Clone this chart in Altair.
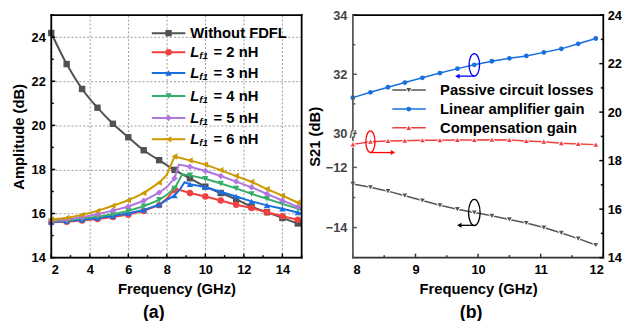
import altair as alt
import pandas as pd

# ---------------- panel (a) data ----------------
FREQ_A = [2.0, 2.8, 3.6, 4.4, 5.2, 6.0, 6.8, 7.6, 8.4, 9.2, 10.0, 10.8, 11.6, 12.4, 13.2, 14.0, 14.8]
AMP_WITHOUT = [24.19, 22.78, 21.65, 20.80, 20.07, 19.46, 18.87, 18.42, 17.98, 17.60, 17.22, 16.93, 16.64, 16.32, 16.06, 15.80, 15.55]
AMP_L2 = [15.60, 15.63, 15.68, 15.75, 15.84, 15.95, 16.12, 16.38, 17.08, 16.93, 16.77, 16.59, 16.40, 16.25, 16.06, 15.88, 15.72]
AMP_L3 = [15.62, 15.66, 15.72, 15.80, 15.89, 16.01, 16.16, 16.40, 16.82, 17.33, 17.20, 16.99, 16.77, 16.55, 16.37, 16.22, 16.05]
AMP_L4 = [15.65, 15.69, 15.77, 15.86, 15.97, 16.12, 16.33, 16.62, 17.14, 17.73, 17.58, 17.36, 17.14, 16.89, 16.67, 16.44, 16.22]
AMP_L5 = [15.68, 15.73, 15.83, 15.97, 16.13, 16.32, 16.58, 16.95, 17.60, 18.12, 17.93, 17.70, 17.45, 17.19, 16.89, 16.59, 16.30]
AMP_L6 = [15.73, 15.80, 15.94, 16.12, 16.35, 16.60, 16.93, 17.40, 18.59, 18.41, 18.22, 17.97, 17.70, 17.44, 17.11, 16.81, 16.50]

# trace points read between the markers (shoulder, resonance peak, right edge at 15 GHz)
EXTRA_F_WITHOUT = [15.0]
EXTRA_WITHOUT = [15.48]
EXTRA_F_L2 = [8.0, 8.47, 15.0]
EXTRA_L2 = [16.68, 17.12, 15.67]
EXTRA_F_L3 = [8.0, 8.7, 8.92, 15.0]
EXTRA_L3 = [16.62, 17.12, 17.42, 16.00]
EXTRA_F_L4 = [8.0, 8.6, 8.8, 15.0]
EXTRA_L4 = [16.85, 17.45, 17.78, 16.15]
EXTRA_F_L5 = [8.0, 8.53, 8.63, 15.0]
EXTRA_L5 = [17.20, 17.95, 18.22, 16.23]
EXTRA_F_L6 = [8.0, 15.0]
EXTRA_L6 = [17.75, 16.40]

SERIES_A = ["Without FDFL", "2 nH", "3 nH", "4 nH", "5 nH", "6 nH"]
COLORS_A = ["#515151", "#F14040", "#1A6FDF", "#37AD6B", "#B177DE", "#CC9900"]
SHAPES_A = ["square", "circle", "triangle-up", "triangle-down", "diamond", "triangle-left"]

X_TICKS_A = [2, 4, 6, 8, 10, 12, 14]
X_MINOR_A = [3, 5, 7, 9, 11, 13, 15]
Y_TICKS_A = [14, 16, 18, 20, 22, 24]
Y_MINOR_A = [15, 17, 19, 21, 23, 25]

# ---------------- panel (b) data ----------------
FREQ_B = [8.0, 8.28, 8.56, 8.83, 9.11, 9.39, 9.67, 9.94, 10.22, 10.5, 10.77, 11.05, 11.33, 11.6, 11.88]
PASSIVE = [-12.55, -12.66, -12.79, -12.94, -13.10, -13.26, -13.39, -13.50, -13.61, -13.73, -13.85, -14.00, -14.18, -14.37, -14.58]
LINEAR = [31.21, 31.39, 31.56, 31.72, 31.88, 32.04, 32.19, 32.32, 32.44, 32.54, 32.62, 32.74, 32.86, 33.03, 33.21]
COMP = [18.67, 18.78, 18.81, 18.82, 18.84, 18.84, 18.85, 18.85, 18.86, 18.85, 18.81, 18.78, 18.72, 18.69, 18.66]

LABELS_B = ["Passive circuit losses", "Linear amplifier gain", "Compensation gain"]
COLORS_B = ["#555555", "#1A6FDF", "#F14040"]
SHAPES_B = ["triangle-down", "circle", "triangle-up"]

X_TICKS_B = [8, 9, 10, 11, 12]
X_MINOR_B = [8.5, 9.5, 10.5, 11.5]
YL_TICKS_B = [34, 32, 30, -12, -14]
YL_MINOR_B = [33, 31, -13]
YR_TICKS_B = [14, 16, 18, 20, 22, 24]
YR_MINOR_B = [15, 17, 19, 21, 23]
LEFT_BREAK = [-10.87, 30]  # left axis jumps from the lower to the upper segment
ARROW_TIPS = [9.67, 8.64, 9.70]  # blue (left), red (right), gray (left)

FONT = "Liberation Sans"
W, H = 254, 246
ONE = pd.DataFrame({"k": [0]})

# ================= panel (a) =================
xa = alt.X("f:Q", scale=alt.Scale(domain=[2, 15], nice=False, zero=False),
           axis=alt.Axis(values=X_TICKS_A, title="Frequency (GHz)", grid=True, gridDash=[2, 2],
                         gridColor="#9a9a9a", gridWidth=1, ticks=False, domain=False, format="d",
                         labelPadding=6, titlePadding=5))
ya = alt.Y("v:Q", scale=alt.Scale(domain=[14, 25], nice=False, zero=False),
           axis=alt.Axis(values=Y_TICKS_A, title="Amplitude (dB)", grid=True, gridDash=[2, 2],
                         gridColor="#9a9a9a", gridWidth=1, ticks=False, domain=False, format="d",
                         labelPadding=6, titlePadding=5))

marker_vals = [AMP_WITHOUT, AMP_L2, AMP_L3, AMP_L4, AMP_L5, AMP_L6]
extra_f = [EXTRA_F_WITHOUT, EXTRA_F_L2, EXTRA_F_L3, EXTRA_F_L4, EXTRA_F_L5, EXTRA_F_L6]
extra_v = [EXTRA_WITHOUT, EXTRA_L2, EXTRA_L3, EXTRA_L4, EXTRA_L5, EXTRA_L6]

pt_rows, line_rows = [], []
for name, vals, ef, ev in zip(SERIES_A, marker_vals, extra_f, extra_v):
    for f, v in zip(FREQ_A, vals):
        pt_rows.append({"f": f, "v": v, "s": name})
        line_rows.append({"f": f, "v": v, "s": name})
    for f, v in zip(ef, ev):
        line_rows.append({"f": f, "v": v, "s": name})
df_pts = pd.DataFrame(pt_rows)
df_lines = pd.DataFrame(line_rows).sort_values(["s", "f"])

col_a = alt.Color("s:N", scale=alt.Scale(domain=SERIES_A, range=COLORS_A), legend=None)
shp_a = alt.Shape("s:N", scale=alt.Scale(domain=SERIES_A, range=SHAPES_A), legend=None)

layers_a = []
for i, name in enumerate(SERIES_A):
    interp = "monotone" if i == 0 else "linear"
    layers_a.append(alt.Chart(df_lines[df_lines.s == name]).mark_line(strokeWidth=2, interpolate=interp)
                    .encode(x=xa, y=ya, color=col_a))
    layers_a.append(alt.Chart(df_pts[df_pts.s == name]).mark_point(filled=True, size=42, opacity=1)
                    .encode(x=xa, y=ya, color=col_a, shape=shp_a))

# inward ticks
for vals, ln in [(X_TICKS_A, 4), (X_MINOR_A, 2.5)]:
    layers_a.append(alt.Chart(pd.DataFrame({"f": vals})).mark_rule(color="black", strokeWidth=1.5)
                    .encode(x=xa, y=alt.value(H), y2=alt.value(H - ln)))
for vals, ln in [(Y_TICKS_A, 4), (Y_MINOR_A, 2.5)]:
    layers_a.append(alt.Chart(pd.DataFrame({"v": vals})).mark_rule(color="black", strokeWidth=1.5)
                    .encode(y=ya, x=alt.value(0), x2=alt.value(ln)))

def hrule(y, x1, x2, color, sw):
    return alt.Chart(ONE).mark_rule(color=color, strokeWidth=sw, strokeCap="square").encode(
        x=alt.value(x1), x2=alt.value(x2), y=alt.value(y))

def vrule(x, y1, y2, color, sw):
    return alt.Chart(ONE).mark_rule(color=color, strokeWidth=sw, strokeCap="square").encode(
        y=alt.value(y1), y2=alt.value(y2), x=alt.value(x))

layers_a += [hrule(0, 0, W, "black", 1.8), hrule(H, 0, W, "black", 1.8),
             vrule(0, 0, H, "black", 1.8), vrule(W, 0, H, "black", 1.8)]

# legend (a)
leg_y = [18.3, 37.7, 58.7, 82.0, 104.3, 126.0]
for i, name in enumerate(SERIES_A):
    y = leg_y[i]
    layers_a.append(alt.Chart(ONE).mark_rule(color=COLORS_A[i], strokeWidth=2).encode(
        x=alt.value(102), x2=alt.value(136), y=alt.value(y)))
    layers_a.append(alt.Chart(ONE).mark_point(filled=True, size=42, opacity=1, color=COLORS_A[i],
                                              shape=SHAPES_A[i])
                    .encode(x=alt.value(119), y=alt.value(y)))
    txt = dict(align="left", baseline="middle", font=FONT, fontWeight="bold", color="black")
    if i == 0:
        layers_a.append(alt.Chart(ONE).mark_text(fontSize=15, text=name, **txt)
                        .encode(x=alt.value(141), y=alt.value(y)))
    else:
        layers_a.append(alt.Chart(ONE).mark_text(fontSize=15, fontStyle="italic", text="L", **txt)
                        .encode(x=alt.value(141), y=alt.value(y)))
        layers_a.append(alt.Chart(ONE).mark_text(fontSize=10, fontStyle="italic", text="f1", dy=4, **txt)
                        .encode(x=alt.value(150.2), y=alt.value(y)))
        layers_a.append(alt.Chart(ONE).mark_text(fontSize=15, text="= " + name, **txt)
                        .encode(x=alt.value(164.7), y=alt.value(y)))

panel_a = alt.layer(*layers_a).properties(
    width=W, height=H,
    title=alt.TitleParams("(a)", orient="bottom", offset=8, fontSize=18, font=FONT, fontWeight="bold",
                          frame="group", anchor="middle", dx=-23))

# ================= panel (b) =================
YB = 120  # pixel row of the axis break
xscale_b = alt.Scale(domain=[8, 12], nice=False, zero=False)
xb = alt.X("f:Q", scale=xscale_b,
           axis=alt.Axis(values=X_TICKS_B, title="Frequency (GHz)", grid=False, ticks=False, domain=False,
                         format="d", labelPadding=6, titlePadding=5))
yl = alt.Y("v:Q", scale=alt.Scale(domain=[-15, LEFT_BREAK[0], LEFT_BREAK[1], 34], range=[H, YB, YB, 0],
                                  nice=False, zero=False),
           axis=alt.Axis(values=YL_TICKS_B, title="S21 (dB)", grid=False, ticks=False, domain=False,
                         format="d", labelPadding=6, titlePadding=3, labelColor="#444444"))
yr = alt.Y("r:Q", scale=alt.Scale(domain=[14, 24], nice=False, zero=False),
           axis=alt.Axis(values=YR_TICKS_B, title=None, orient="right", grid=False, ticks=False, domain=False,
                         format="d", labelPadding=4))

df_pass = pd.DataFrame({"f": FREQ_B, "v": PASSIVE})
df_lin = pd.DataFrame({"f": FREQ_B, "v": LINEAR})
df_comp = pd.DataFrame({"f": FREQ_B, "r": COMP})


def ellipse(rx):
    k = 0.5523
    return (f"M 0 -1 C {k*rx:.3f} -1 {rx} {-k} {rx} 0 C {rx} {k} {k*rx:.3f} 1 0 1 "
            f"C {-k*rx:.3f} 1 {-rx} {k} {-rx} 0 C {-rx} {-k} {-k*rx:.3f} -1 0 -1 Z")


left = [
    alt.Chart(df_lin).mark_line(strokeWidth=1.5, color=COLORS_B[1]).encode(x=xb, y=yl),
    alt.Chart(df_lin).mark_point(filled=True, size=24, opacity=1, color=COLORS_B[1], shape="circle").encode(x=xb, y=yl),
    alt.Chart(df_pass).mark_line(strokeWidth=1.5, color=COLORS_B[0]).encode(x=xb, y=yl),
    alt.Chart(df_pass).mark_point(filled=True, size=24, opacity=1, color=COLORS_B[0], shape="triangle-down",
                                  stroke="white", strokeWidth=2).encode(x=xb, y=yl),
    alt.Chart(df_pass).mark_point(filled=True, size=24, opacity=1, color=COLORS_B[0], shape="triangle-down").encode(x=xb, y=yl),
]
# annotations: ellipses around one point with arrows towards the axis used
ann_lin = pd.DataFrame({"f": [FREQ_B[7]], "f2": [ARROW_TIPS[0]], "v": [LINEAR[7]]})
ann_pas = pd.DataFrame({"f": [FREQ_B[7]], "f2": [ARROW_TIPS[2]], "v": [PASSIVE[7]]})
left += [
    alt.Chart(ann_lin).mark_point(shape=ellipse(0.47), size=515, filled=False, color="#0000FF", strokeWidth=1.3,
                                  opacity=1).encode(x=xb, y=yl),
    alt.Chart(ann_lin).mark_rule(color="#0000FF", strokeWidth=1.3, yOffset=11.5).encode(x=xb, x2="f2:Q", y=yl),
    alt.Chart(ann_lin).mark_point(shape="triangle-left", filled=True, size=26, color="#0000FF", opacity=1,
                                  yOffset=11.5).encode(x=alt.X("f2:Q", scale=xscale_b), y=yl),
    alt.Chart(ann_pas).mark_point(shape=ellipse(0.44), size=710, filled=False, color="black", strokeWidth=1.3,
                                  opacity=1).encode(x=xb, y=yl),
    alt.Chart(ann_pas).mark_rule(color="black", strokeWidth=1.3, yOffset=13).encode(x=xb, x2="f2:Q", y=yl),
    alt.Chart(ann_pas).mark_point(shape="triangle-left", filled=True, size=26, color="black", opacity=1,
                                  yOffset=13).encode(x=alt.X("f2:Q", scale=xscale_b), y=yl),
]
for vals, ln in [(X_TICKS_B, 4), (X_MINOR_B, 2.5)]:
    left.append(alt.Chart(pd.DataFrame({"f": vals})).mark_rule(color="#333333", strokeWidth=1.5)
                .encode(x=xb, y=alt.value(H), y2=alt.value(H - ln)))
for vals, ln in [(YL_TICKS_B, 4), (YL_MINOR_B, 2.5)]:
    left.append(alt.Chart(pd.DataFrame({"v": vals})).mark_rule(color="#555555", strokeWidth=1.5)
                .encode(y=yl, x=alt.value(0), x2=alt.value(ln)))
# frame with break on the left axis
left += [hrule(0, 0, W, "black", 1.8), vrule(W, 0, H, "black", 1.8), hrule(H, 0, W, "#333333", 1.8),
         vrule(0, 0, YB - 3, "#5a5a5a", 1.8), vrule(0, YB + 4, H, "#5a5a5a", 1.8),
         alt.Chart(ONE).mark_text(text="//", fontSize=12, fontWeight="bold", font=FONT, color="#5a5a5a",
                                  align="center", baseline="middle").encode(x=alt.value(0), y=alt.value(YB + 0.5))]
# legend (b)
leg_yb = [76, 95.3, 114.3]
for i, lab in enumerate(LABELS_B):
    y = leg_yb[i]
    left.append(alt.Chart(ONE).mark_rule(color=COLORS_B[i], strokeWidth=1.5).encode(
        x=alt.value(40), x2=alt.value(74), y=alt.value(y)))
    if i != 1:
        left.append(alt.Chart(ONE).mark_point(filled=True, size=24, opacity=1, color=COLORS_B[i],
                                              shape=SHAPES_B[i], stroke="white", strokeWidth=2)
                    .encode(x=alt.value(56.7), y=alt.value(y)))
    left.append(alt.Chart(ONE).mark_point(filled=True, size=24, opacity=1, color=COLORS_B[i],
                                          shape=SHAPES_B[i]).encode(x=alt.value(56.7), y=alt.value(y)))
    left.append(alt.Chart(ONE).mark_text(text=lab, fontSize=15, font=FONT, fontWeight="bold", color="black",
                                         align="left", baseline="middle").encode(x=alt.value(88.4), y=alt.value(y)))

ann_comp = pd.DataFrame({"f": [FREQ_B[1]], "f2": [ARROW_TIPS[1]], "r": [COMP[1]]})
right = [
    alt.Chart(df_comp).mark_line(strokeWidth=1.5, color=COLORS_B[2]).encode(x=xb, y=yr),
    alt.Chart(df_comp).mark_point(filled=True, size=24, opacity=1, color=COLORS_B[2], shape="triangle-up",
                                  stroke="white", strokeWidth=2).encode(x=xb, y=yr),
    alt.Chart(df_comp).mark_point(filled=True, size=24, opacity=1, color=COLORS_B[2], shape="triangle-up").encode(x=xb, y=yr),
    alt.Chart(ann_comp).mark_point(shape=ellipse(0.42), size=484, filled=False, color="#FF0000", strokeWidth=1.3,
                                   opacity=1).encode(x=xb, y=yr),
    alt.Chart(ann_comp).mark_rule(color="#FF0000", strokeWidth=1.3, yOffset=11).encode(x=xb, x2="f2:Q", y=yr),
    alt.Chart(ann_comp).mark_point(shape="triangle-right", filled=True, size=26, color="#FF0000", opacity=1,
                                   yOffset=11).encode(x=alt.X("f2:Q", scale=xscale_b), y=yr),
]
for vals, ln in [(YR_TICKS_B, 4), (YR_MINOR_B, 2.5)]:
    right.append(alt.Chart(pd.DataFrame({"r": vals})).mark_rule(color="black", strokeWidth=1.5)
                 .encode(y=yr, x=alt.value(W), x2=alt.value(W - ln)))

panel_b = alt.layer(alt.layer(*left), alt.layer(*right)).resolve_scale(y="independent").properties(
    width=W, height=H,
    title=alt.TitleParams("(b)", orient="bottom", offset=8, fontSize=18, font=FONT, fontWeight="bold",
                          frame="group", anchor="middle", dx=-7))

chart = alt.hconcat(panel_a, panel_b, spacing=1).properties(
    padding={"left": 11, "top": 7, "right": 0, "bottom": 0}
).configure_axis(
    labelFont=FONT, titleFont=FONT, labelFontSize=13, titleFontSize=15,
    labelFontWeight="bold", titleFontWeight="bold", labelColor="black", titleColor="black"
).configure_view(strokeWidth=0).configure_title(font=FONT, color="black")

chart.save("out.html", embed_options={"renderer": "svg", "actions": False})
